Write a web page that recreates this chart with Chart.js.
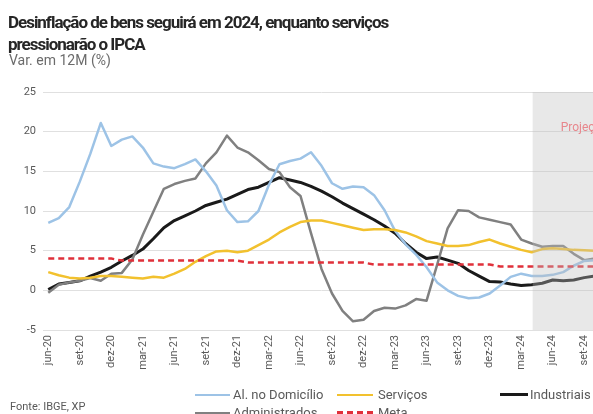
<!DOCTYPE html>
<html><head><meta charset="utf-8">
<script src="https://cdn.jsdelivr.net/npm/chart.js@4"></script>
<style>
html,body{margin:0;padding:0;overflow:hidden;background:#fff;width:593px;height:414px;}
#wrap{position:relative;width:593px;height:414px;overflow:hidden;}
#cv{position:absolute;left:0;top:0;}
.t{position:absolute;white-space:nowrap;font-family:Roboto,"Open Sans",sans-serif;}
.lt{font-size:13px;line-height:16px;color:#595959;}
.lg{position:absolute;height:0;}
</style></head>
<body><div id="wrap">
<canvas id="cv" width="640" height="414" style="width:640px;height:414px"></canvas>
<div id="title" class="t" style="left:8px;top:11px;font-weight:bold;font-size:17px;line-height:22px;color:#262626;"><span id="t1">Desinflação de bens seguirá em 2024, enquanto serviços</span><br>pressionarão o IPCA</div>
<div class="t" style="left:9px;top:52px;font-size:14px;line-height:16px;color:#6b6b6b;">Var. em 12M (%)</div>
<div class="t lt" style="left:10px;top:399px;font-size:11px;">Fonte: IBGE, XP</div>

<div class="lg" style="left:195px;top:394px;width:35px;border-top:2.5px solid #9dc3e6"></div>
<div class="t lt" style="left:233px;top:387px">Al. no Domicílio</div>
<div class="lg" style="left:337px;top:394px;width:36px;border-top:2.5px solid #f2c12e"></div>
<div class="t lt" style="left:378px;top:387px">Serviços</div>
<div class="lg" style="left:500px;top:393px;width:28px;border-top:3px solid #1a1a1a"></div>
<div class="t lt" style="left:530px;top:387px">Industriais</div>
<div class="lg" style="left:195px;top:412px;width:35px;border-top:2.5px solid #808080"></div>
<div class="t lt" style="left:233px;top:405px">Administrados</div>
<div class="lg" style="left:337px;top:411px;width:36px;height:3px;background:repeating-linear-gradient(90deg,#e0303a 0 6px,transparent 6px 10px)"></div>
<div class="t lt" style="left:378px;top:405px">Meta</div>
</div>
<script>
const months = ['jun-20','jul-20','ago-20','set-20','out-20','nov-20','dez-20',
 'jan-21','fev-21','mar-21','abr-21','mai-21','jun-21','jul-21','ago-21','set-21','out-21','nov-21','dez-21',
 'jan-22','fev-22','mar-22','abr-22','mai-22','jun-22','jul-22','ago-22','set-22','out-22','nov-22','dez-22',
 'jan-23','fev-23','mar-23','abr-23','mai-23','jun-23','jul-23','ago-23','set-23','out-23','nov-23','dez-23',
 'jan-24','fev-24','mar-24','abr-24','mai-24','jun-24','jul-24','ago-24','set-24','out-24'];
const projectionStart = 'abr-24';

const alDomicilio = [8.5,9.1,10.5,13.7,17.2,21.1,18.2,19.0,19.4,18.0,16.0,15.6,15.4,15.9,16.5,15.0,13.2,10.1,8.6,8.7,
 10.0,13.3,15.9,16.3,16.6,17.4,15.7,13.5,12.8,13.1,13.0,12.0,10.1,7.5,5.8,4.5,2.9,1.0,0.0,-0.7,
 -1.0,-0.9,-0.4,0.6,1.7,2.1,1.8,1.8,1.95,2.3,3.1,3.7,3.8];
const servicos = [2.3,1.9,1.6,1.5,1.6,1.8,1.8,1.7,1.6,1.5,1.7,1.6,2.1,2.7,3.6,4.3,4.9,5.0,4.8,5.0,
 5.7,6.4,7.3,8.0,8.6,8.8,8.8,8.5,8.2,7.9,7.6,7.7,7.7,7.6,7.3,6.8,6.2,5.9,5.6,5.6,
 5.7,6.1,6.4,5.9,5.5,5.1,4.8,5.2,5.3,5.2,5.1,5.05,5.0];
const industriais = [0.1,0.8,1.0,1.2,1.8,2.3,2.9,3.7,4.4,5.2,6.5,7.9,8.8,9.4,10.0,10.7,11.1,11.5,12.1,12.7,
 13.0,13.6,14.2,13.9,13.6,13.1,12.5,11.8,11.0,10.3,9.6,8.9,8.1,7.2,5.9,4.8,4.0,4.2,3.8,3.4,
 2.5,1.8,1.1,1.05,0.8,0.6,0.7,0.9,1.3,1.2,1.3,1.6,1.8];
const administrados = [-0.3,0.7,1.0,1.2,1.55,1.2,2.1,2.2,3.9,7.0,9.9,12.8,13.4,13.8,14.1,16.0,17.4,19.5,18.0,17.4,
 16.4,15.3,14.9,13.0,11.9,7.2,2.7,-0.4,-2.6,-3.9,-3.7,-2.6,-2.2,-2.3,-1.9,-1.1,-1.3,3.2,7.8,10.1,
 10.0,9.2,8.9,8.6,8.3,6.4,5.9,5.5,5.6,5.6,4.6,3.8,4.0];
const meta = [4.0,4.0,4.0,4.0,4.0,4.0,4.0,
 3.75,3.75,3.75,3.75,3.75,3.75,3.75,3.75,3.75,3.75,3.75,3.75,
 3.5,3.5,3.5,3.5,3.5,3.5,3.5,3.5,3.5,3.5,3.5,3.5,
 3.25,3.25,3.25,3.25,3.25,3.25,3.25,3.25,3.25,3.25,3.25,3.25,
 3.0,3.0,3.0,3.0,3.0,3.0,3.0,3.0,3.0,3.0];

// fit title width
(function(){
  const t1 = document.getElementById('t1');
  const w = t1.getBoundingClientRect().width;
  const n = t1.textContent.length;
  document.getElementById('title').style.letterSpacing = ((380 - w) / n) + 'px';
})();

const shadePlugin = {
  id: 'shade',
  afterDatasetsDraw(chart) {
    const {ctx, chartArea: a, scales: {x}} = chart;
    const x0 = x.getPixelForValue(months.indexOf(projectionStart)) + 1;
    ctx.save();
    ctx.fillStyle = 'rgba(190,190,190,0.36)';
    ctx.fillRect(x0, a.top, chart.width - x0, a.bottom - a.top);
    ctx.fillStyle = '#e8868c';
    ctx.font = '12px Roboto';
    ctx.textBaseline = 'middle';
    ctx.fillText('Projeções', x0 + 28, a.top + 36);
    ctx.restore();
  }
};

const ds = (label, data, color, width, extra) => Object.assign({
  label, data, borderColor: color, backgroundColor: color, borderWidth: width,
  pointRadius: 0, tension: 0, fill: false, borderJoinStyle: 'round'
}, extra || {});

new Chart(document.getElementById('cv'), {
  type: 'line',
  data: {
    labels: months,
    datasets: [
      ds('Meta', meta, '#e0303a', 2.5, {borderDash: [6, 4]}),
      ds('Serviços', servicos, '#f2c12e', 2.5),
      ds('Al. no Domicílio', alDomicilio, '#9dc3e6', 2.5),
      ds('Administrados', administrados, '#808080', 2.5),
      ds('Industriais', industriais, '#1a1a1a', 3)
    ]
  },
  options: {
    responsive: false,
    animation: false,
    layout: {padding: {top: 92, left: 0, right: 40, bottom: 39}},
    plugins: {legend: {display: false}, tooltip: {enabled: false}},
    scales: {
      x: {
        type: 'category', offset: true,
        grid: {display: false, drawTicks: false},
        border: {display: false},
        ticks: {
          autoSkip: false, maxRotation: 90, minRotation: 90, padding: 5,
          color: '#595959', font: {family: 'Roboto', size: 11},
          callback: (v, i) => (i % 3 === 0 ? months[i] : '')
        },
        afterFit: (s) => { s.height = 45; }
      },
      y: {
        min: -5, max: 25,
        ticks: {stepSize: 5, padding: 7, color: '#595959', font: {family: 'Roboto', size: 11}},
        grid: {color: '#e0e0e0', drawTicks: false},
        border: {display: false},
        afterFit: (s) => { s.width = 43; }
      }
    }
  },
  plugins: [shadePlugin]
});
</script>
</body></html>
